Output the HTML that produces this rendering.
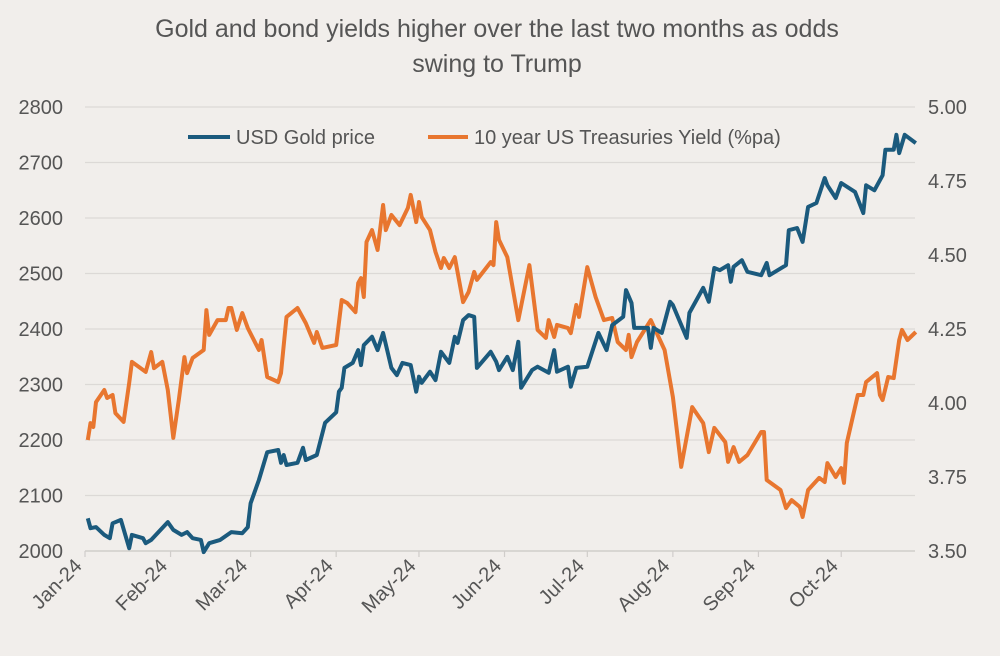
<!DOCTYPE html>
<html><head><meta charset="utf-8">
<style>
html,body{margin:0;padding:0;background:#f1eeeb;}
svg{display:block;font-family:"Liberation Sans",sans-serif;}
</style></head>
<body>
<svg id="chart" width="1000" height="656" viewBox="0 0 1000 656" xmlns="http://www.w3.org/2000/svg">
<rect width="1000" height="656" fill="#f1eeeb"/>
<text x="497" y="37" text-anchor="middle" font-size="25" fill="#555">Gold and bond yields higher over the last two months as odds</text>
<text x="497" y="72" text-anchor="middle" font-size="25" fill="#555">swing to Trump</text>
<g id="grid"></g>
<g id="axes"></g>
<g id="series"></g>
<g>
<line x1="188" y1="137" x2="230" y2="137" stroke="#1b5a7d" stroke-width="4"/>
<text x="236" y="144" font-size="20" fill="#555">USD Gold price</text>
<line x1="428" y1="137" x2="468" y2="137" stroke="#e8762f" stroke-width="4"/>
<text x="474" y="144" font-size="20" fill="#555">10 year US Treasuries Yield (%pa)</text>
</g>
</svg>
<script>
const goldDays=[1,2,4,7,9,10,13,16,17,21,22,24,30,32,35,37,39,42,43,45,49,53,57,59,60,63,66,70,71,72,73,77,79,80,84,87,91,92,93,94,97,99,100,101,104,106,108,111,113,115,118,120,121,122,125,127,129,132,134,135,137,139,141,142,147,149,150,153,155,157,158,162,164,168,170,171,175,176,178,182,186,189,191,195,196,198,199,204,205,206,209,212,213,218,219,224,226,228,230,233,234,235,238,240,245,247,248,253,254,255,258,260,262,265,268,269,272,274,279,282,283,286,289,290,293,294,295,297,301];
const goldValues=[2059,2041,2043,2029,2023,2050,2056,2005,2029,2023,2014,2020,2052,2038,2029,2034,2023,2020,1998,2014,2020,2034,2032,2043,2086,2128,2178,2182,2159,2173,2155,2159,2186,2164,2173,2231,2250,2287,2294,2330,2339,2362,2335,2371,2386,2362,2393,2330,2317,2339,2335,2287,2314,2303,2323,2308,2359,2339,2386,2375,2416,2425,2422,2330,2359,2341,2326,2350,2326,2377,2294,2326,2332,2321,2362,2323,2332,2296,2330,2332,2393,2362,2407,2422,2470,2447,2402,2402,2366,2402,2393,2449,2443,2384,2429,2474,2449,2510,2506,2515,2485,2512,2524,2503,2497,2519,2497,2512,2515,2578,2582,2557,2620,2627,2672,2659,2636,2663,2647,2609,2659,2650,2677,2723,2723,2750,2717,2750,2735];
const yieldDays=[1,2,3,4,7,8,10,11,14,16,17,22,24,25,28,30,32,34,36,37,39,43,44,45,48,51,52,53,55,57,59,63,64,66,70,71,73,77,80,83,84,86,91,93,95,98,99,100,101,102,104,106,108,109,111,114,117,118,120,121,122,125,127,129,130,132,134,137,139,141,142,147,148,149,150,153,157,161,164,167,168,170,171,175,176,178,179,182,185,188,191,193,196,197,198,200,205,210,213,216,218,220,224,226,228,232,233,235,237,240,245,246,247,252,254,256,259,260,262,266,268,269,272,274,275,276,280,282,283,287,288,289,291,293,295,296,298,301];
const yieldValues=[3.875,3.932,3.919,4.003,4.044,4.017,4.027,3.966,3.936,4.068,4.139,4.105,4.172,4.118,4.139,4.044,3.882,4.010,4.155,4.101,4.152,4.179,4.314,4.230,4.280,4.280,4.321,4.321,4.247,4.304,4.253,4.179,4.213,4.088,4.071,4.101,4.291,4.321,4.270,4.203,4.240,4.186,4.196,4.348,4.338,4.307,4.405,4.422,4.358,4.544,4.584,4.517,4.669,4.584,4.635,4.601,4.659,4.703,4.611,4.679,4.628,4.584,4.510,4.456,4.490,4.456,4.493,4.341,4.375,4.443,4.416,4.476,4.466,4.611,4.551,4.493,4.280,4.466,4.247,4.220,4.280,4.223,4.264,4.253,4.236,4.331,4.291,4.459,4.358,4.280,4.287,4.206,4.179,4.230,4.155,4.206,4.280,4.179,4.020,3.784,3.885,3.986,3.932,3.834,3.916,3.868,3.801,3.851,3.801,3.824,3.902,3.902,3.740,3.706,3.645,3.672,3.649,3.615,3.706,3.747,3.733,3.797,3.750,3.780,3.730,3.865,4.027,4.027,4.071,4.101,4.027,4.010,4.088,4.084,4.213,4.247,4.213,4.240];
const leftTicks=[2000,2100,2200,2300,2400,2500,2600,2700,2800];
const rightTicks=[3.5,3.75,4.0,4.25,4.5,4.75,5.0];
const monthLabels=["Jan-24","Feb-24","Mar-24","Apr-24","May-24","Jun-24","Jul-24","Aug-24","Sep-24","Oct-24"];
const monthStartDays=[0,31,60,91,121,152,182,213,244,274];

const NS="http://www.w3.org/2000/svg";
const X0=85,PX_PER_DAY=2.76,XMAX=915,YTOP=107,YBOT=551;
const xScale=d=>X0+d*PX_PER_DAY;
const yLeft=v=>YBOT-(v-2000)/(2800-2000)*(YBOT-YTOP);
const yRight=v=>YBOT-(v-3.5)/(5.0-3.5)*(YBOT-YTOP);
function mk(tag,attrs,parent){const e=document.createElementNS(NS,tag);for(const k in attrs)e.setAttribute(k,attrs[k]);parent.appendChild(e);return e;}
const grid=document.getElementById('grid'),axes=document.getElementById('axes'),series=document.getElementById('series');

leftTicks.forEach((t,i)=>{
  const y=yLeft(t);
  const g=mk('line',{x1:X0,x2:XMAX,y1:y,y2:y,stroke:i===0?'#d0cdca':'#dcd9d6','stroke-width':i===0?1.5:1.2},grid);
  
  
  const tx=mk('text',{x:63,y:y+7,'text-anchor':'end','font-size':20,fill:'#555'},axes);
  tx.textContent=String(t);
  
  
});
rightTicks.forEach(t=>{
  const y=yRight(t);
  const tx=mk('text',{x:928,y:y+7,'text-anchor':'start','font-size':20,fill:'#555'},axes);
  tx.textContent=t.toFixed(2);
  
  
});
monthLabels.forEach((m,i)=>{
  const x=xScale(monthStartDays[i]);
  const tk=mk('line',{x1:x,x2:x,y1:YBOT,y2:YBOT+6,stroke:'#d0cdca','stroke-width':1.2},axes);
  
  
  const tx=mk('text',{x:x-2,y:YBOT+16,'text-anchor':'end','font-size':20,fill:'#555',transform:`rotate(-45 ${x-2} ${YBOT+16})`},axes);
  tx.textContent=m;
  
  
});
function pathFrom(days,vals,ys){return days.map((d,i)=>(i?'L':'M')+xScale(d).toFixed(1)+','+ys(vals[i]).toFixed(1)).join(' ');}
const py=mk('path',{d:pathFrom(yieldDays,yieldValues,yRight),fill:'none',stroke:'#e8762f','stroke-width':4,'stroke-linejoin':'round'},series);


const pg=mk('path',{d:pathFrom(goldDays,goldValues,yLeft),fill:'none',stroke:'#1b5a7d','stroke-width':4,'stroke-linejoin':'round'},series);


</script>
</body></html>
